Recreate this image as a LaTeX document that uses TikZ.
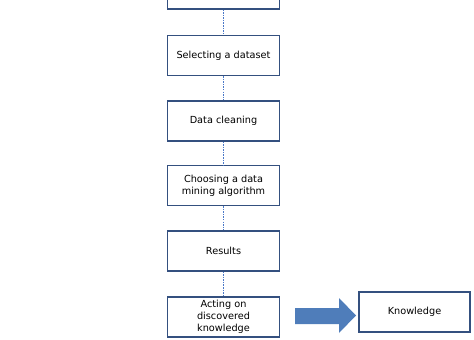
\documentclass[tikz,border=0pt]{standalone}
\usepackage{fontspec}
\setmainfont{DejaVu Sans}
\usepackage{xcolor}
\definecolor{boxline}{HTML}{34507F}
\definecolor{linkblue}{HTML}{4A78C8}
\definecolor{arrowblue}{HTML}{4F7DBA}

\begin{document}
\begin{tikzpicture}[x=0.03cm,y=-0.03cm,
    stage/.style={draw=boxline, line width=1pt, fill=white,
      minimum width=3.36cm, minimum height=1.2cm, align=center,
      inner sep=1pt, font=\fontsize{8.3}{10}\selectfont},
    link/.style={linkblue, line width=0.6pt, dash pattern=on 1.3pt off 0.9pt}]
  % Frame
  \useasboundingbox (0,0) rectangle (474,340);
  \clip (0,0) rectangle (474,340);
  % Stages
  \node[stage] (target) at (223.5,-11) {};
  \node[stage] (select) at (223.5,55.5) {Selecting a dataset};
  \node[stage] (clean) at (223.5,121) {Data cleaning};
  \node[stage] (mining) at (223.5,185.5) {Choosing a data\\mining algorithm};
  \node[stage] (results) at (223.5,251) {Results};
  \node[stage] (acting) at (223.5,317) {Acting on\\discovered\\knowledge};
  \node[stage, minimum width=3.33cm] (knowledge) at (414.5,312) {Knowledge};
  % Links
  \draw[link] (target) -- (select);
  \draw[link] (select) -- (clean);
  \draw[link] (clean) -- (mining);
  \draw[link] (mining) -- (results);
  \draw[link] (results) -- (acting);
  % Block arrow
  \fill[arrowblue] (295,308) -- (339,308) -- (339,298) -- (356,315.5)
    -- (339,333) -- (339,324) -- (295,324) -- cycle;
\end{tikzpicture}
\end{document}
